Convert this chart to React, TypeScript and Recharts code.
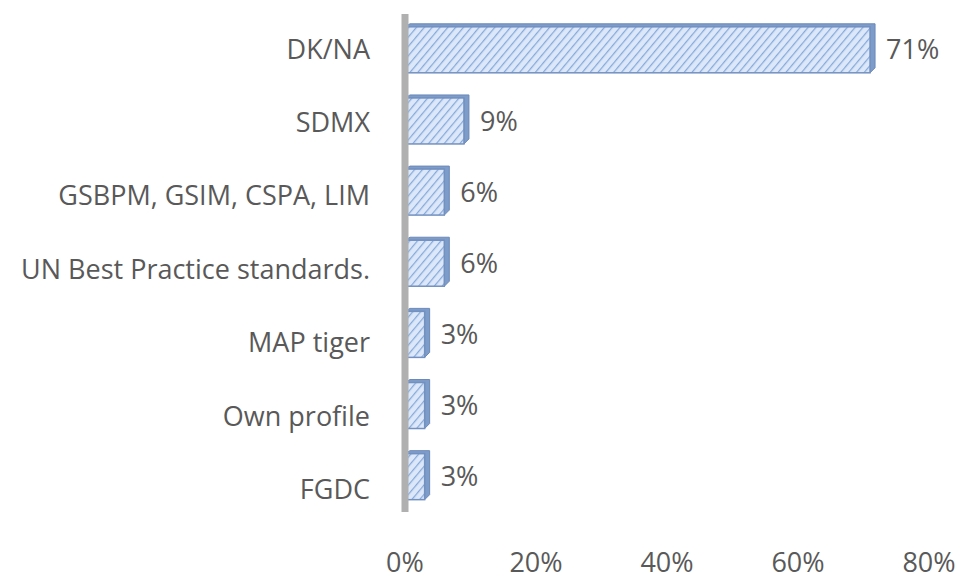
import { Bar, BarChart, LabelList, XAxis, YAxis } from "recharts";

const categories = [
  "DK/NA",
  "SDMX",
  "GSBPM, GSIM, CSPA, LIM",
  "UN Best Practice standards.",
  "MAP tiger",
  "Own profile",
  "FGDC",
];
const shares = [71, 9, 6, 6, 3, 3, 3];
const xTicks = [0, 20, 40, 60, 80];

const data = categories.map((name, i) => ({ name, value: shares[i] }));

const FONT = "'Open Sans', 'Noto Sans', sans-serif";
const TEXT = "#595959";

function HatchBar(props: any) {
  const { x, y, width, height } = props;
  const d = 5; // fake 3d depth
  return (
    <g>
      <polygon
        points={`${x},${y} ${x + d},${y - d * 0.6} ${x + width + d},${y - d * 0.6} ${x + width + d},${y + height - d} ${x + width},${y + height} ${x + width},${y}`}
        fill="#7e9cc9"
        stroke="#6b89b8"
        strokeWidth={1}
      />
      <rect x={x} y={y} width={width} height={height} fill="url(#hatch)" stroke="#7391c0" strokeWidth={1.5} />
    </g>
  );
}

// labels drift down a little per row, like the perspective in the original
function CatTick({ x, y, payload, index }: any) {
  return (
    <text x={x - 27} y={y + 9 + (index ?? 0) * 2.3} textAnchor="end" fontSize={27} fontFamily={FONT} fill={TEXT}>
      {payload.value}
    </text>
  );
}

function PctTick({ x, y, payload }: any) {
  return (
    <text x={x} y={y + 52} textAnchor="middle" fontSize={27} fontFamily={FONT} fill={TEXT}>
      {payload.value}%
    </text>
  );
}

export default function App() {
  return (
    <div style={{ position: "absolute", left: 0, top: 0, background: "#fff" }}>
      <BarChart
        width={972}
        height={579}
        data={data}
        layout="vertical"
        margin={{ top: 14, right: 43, bottom: 0, left: 0 }}
        barCategoryGap="18%"
      >
        <defs>
          <pattern id="hatch" width="6" height="6" patternUnits="userSpaceOnUse" patternTransform="rotate(40)">
            <rect width="6" height="6" fill="#dce8f9" />
            <line x1="0" y1="0" x2="0" y2="6" stroke="#86a9da" strokeWidth={2.5} />
          </pattern>
        </defs>
        <XAxis
          type="number"
          domain={[0, 80]}
          ticks={xTicks}
          tick={<PctTick />}
          axisLine={false}
          tickLine={false}
          height={67}
        />
        <YAxis
          type="category"
          dataKey="name"
          width={405}
          tick={<CatTick />}
          axisLine={{ stroke: "#b0b0b0", strokeWidth: 7 }}
          tickLine={false}
          interval={0}
        />
        <Bar dataKey="value" shape={<HatchBar />} isAnimationActive={false}>
          <LabelList
            dataKey="value"
            position="right"
            offset={16}
            formatter={(v: any) => `${v}%`}
            style={{ fontSize: 27, fontFamily: FONT, fill: TEXT }}
          />
        </Bar>
      </BarChart>
    </div>
  );
}
